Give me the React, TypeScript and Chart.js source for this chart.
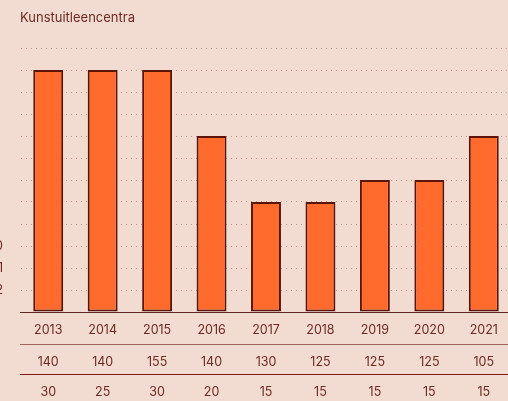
import React, { useEffect, useRef } from "react";
import { Chart, registerables } from "chart.js";

Chart.register(...registerables);

const title = "Kunstuitleencentra";
const categories = ["2013", "2014", "2015", "2016", "2017", "2018", "2019", "2020", "2021"];
const centres = [11, 11, 11, 8, 5, 5, 6, 6, 8];
const rowOne = ["140", "140", "155", "140", "130", "125", "125", "125", "105"];
const rowTwo = ["30", "25", "30", "20", "15", "15", "15", "15", "15"];
const yTickValues = [1, 2, 3];
const yTickTexts = ["2", "1", "0"];

const BG = "#F2DCD2";
const TEXT = "#6E2A22";
const FONT = "Inter, 'Open Sans', sans-serif";

export default function App() {
  const ref = useRef<HTMLCanvasElement | null>(null);

  useEffect(() => {
    document.body.style.margin = "0";
    document.body.style.overflow = "hidden";
    document.body.style.background = BG;
    const canvas = ref.current;
    if (!canvas) return;

    const tablePlugin = {
      id: "tablePlugin",
      afterDraw(chart: any) {
        const ctx = chart.ctx;
        const xs = chart.scales.x;
        const ys = chart.scales.y;
        const area = chart.chartArea;
        const W = chart.width;
        ctx.save();
        // title
        ctx.fillStyle = TEXT;
        ctx.font = `13px ${FONT}`;
        ctx.textAlign = "left";
        ctx.textBaseline = "middle";
        ctx.fillText(title, 20, 18);
        // baseline
        ctx.strokeStyle = "#5E2A22";
        ctx.lineWidth = 1;
        ctx.beginPath();
        ctx.moveTo(area.left - 1, Math.round(area.bottom) + 0.5);
        ctx.lineTo(W, Math.round(area.bottom) + 0.5);
        ctx.stroke();
        // table lines
        const base = area.bottom;
        ctx.strokeStyle = "#A0665C";
        ctx.beginPath();
        ctx.moveTo(area.left - 1, base + 32.5);
        ctx.lineTo(W, base + 32.5);
        ctx.stroke();
        ctx.strokeStyle = "#7A1A10";
        ctx.beginPath();
        ctx.moveTo(area.left - 1, base + 62.5);
        ctx.lineTo(W, base + 62.5);
        ctx.stroke();
        // rows
        ctx.fillStyle = TEXT;
        ctx.font = `12.5px ${FONT}`;
        ctx.textAlign = "center";
        categories.forEach((c, i) => {
          const x = xs.getPixelForValue(i);
          ctx.fillText(c, x, base + 18);
          ctx.fillText(rowOne[i], x, base + 50);
          ctx.fillText(rowTwo[i], x, base + 80);
        });
        // clipped y labels at left edge
        ctx.textAlign = "right";
        yTickValues.forEach((v, i) => {
          ctx.fillText(yTickTexts[i], 3, ys.getPixelForValue(v));
        });
        ctx.restore();
      },
    };

    const chart = new Chart(canvas, {
      type: "bar",
      data: {
        labels: categories,
        datasets: [
          {
            data: centres,
            backgroundColor: "#FF6B2C",
            borderColor: "#5C1408",
            borderWidth: 2,
            borderSkipped: false,
            barPercentage: 0.55,
            categoryPercentage: 1,
          },
        ],
      },
      options: {
        responsive: false,
        animation: false,
        layout: { padding: { left: 21, right: 1, top: 48, bottom: 89 } },
        plugins: { legend: { display: false }, tooltip: { enabled: false }, title: { display: false } },
        scales: {
          x: { display: false },
          y: {
            min: 0,
            max: 12,
            ticks: { display: false, stepSize: 1 },
            border: { display: false, dash: [1, 4] },
            grid: {
              drawTicks: false,
              color: (c: any) => (c.tick && c.tick.value === 0 ? "rgba(0,0,0,0)" : "#C4918A"),
              lineWidth: 1,
            },
            afterFit: (s: any) => {
              s.width = 0;
            },
          } as any,
        },
      },
      plugins: [tablePlugin],
    });

    return () => chart.destroy();
  }, []);

  return (
    <div style={{ width: 512, height: 401, background: BG }}>
      <canvas ref={ref} width={512} height={401} />
    </div>
  );
}
